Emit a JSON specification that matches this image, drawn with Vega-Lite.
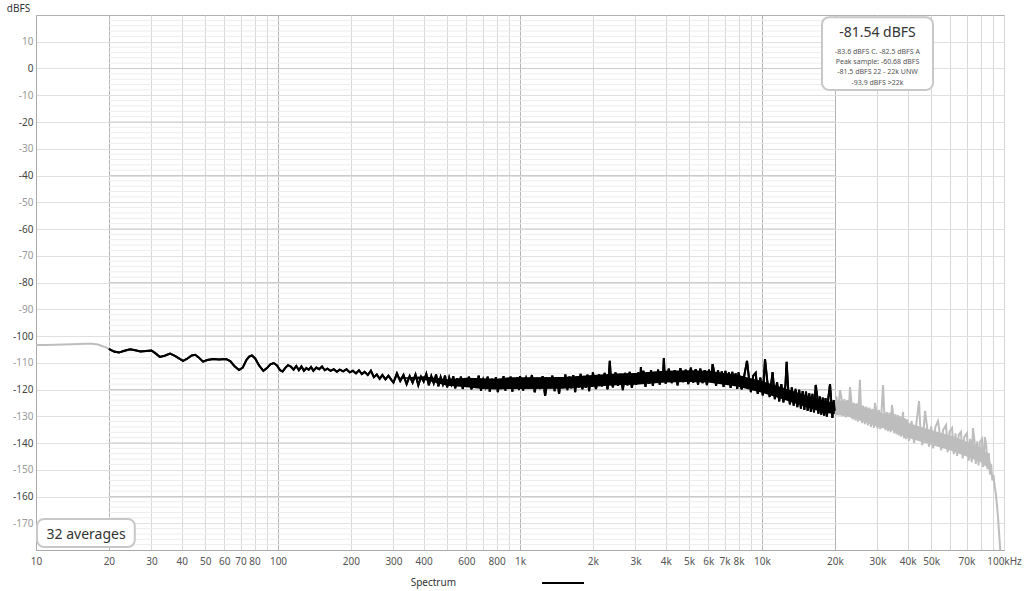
{
  "$schema": "https://vega.github.io/schema/vega-lite/v6.json",
  "width": 968,
  "height": 535,
  "autosize": {"type": "none"},
  "padding": {"left": 36, "top": 15, "right": 20, "bottom": 41},
  "background": "white",
  "config": {"view": {"stroke": "#b0b0b0", "strokeWidth": 1}, "font": "Noto Sans"},
  "datasets": {
    "minor": [-178,-176,-174,-172,-168,-166,-164,-162,-158,-156,-154,-152,-148,-146,-144,-142,-138,-136,-134,-132,-128,-126,-124,-122,-118,-116,-114,-112,-108,-106,-104,-102,-98,-96,-94,-92,-88,-86,-84,-82,-78,-76,-74,-72,-68,-66,-64,-62,-58,-56,-54,-52,-48,-46,-44,-42,-38,-36,-34,-32,-28,-26,-24,-22,-18,-16,-14,-12,-8,-6,-4,-2,2,4,6,8,12,14,16,18],
    "major20": [-160,-140,-120,-100,-80,-60,-40,-20,0],
    "boxes": [
      {"x1": 10.1, "x2": 25.6, "y1": -168.4, "y2": -178.9},
      {"x1": 17700, "x2": 50900, "y1": 19.2, "y2": -8.0}
    ],
    "bignotes": [
      {"x": 16.1, "y": -174.4, "t": "32 averages"},
      {"x": 30000, "y": 13.3, "t": "-81.54 dBFS"}
    ],
    "smallnotes": [
      {"x": 30000, "y": 6.3, "t": "-83.6 dBFS C. -82.5 dBFS A"},
      {"x": 30000, "y": 2.5, "t": "Peak sample: -60.68 dBFS"},
      {"x": 30000, "y": -1.4, "t": "-81.5 dBFS 22 - 22k UNW"},
      {"x": 30000, "y": -5.3, "t": "-93.9 dBFS >22k"}
    ],
    "bandb": [
      {"f":300,"lo":-115.7,"hi":-115.7},{"f":400,"lo":-116.4,"hi":-115.0},{"f":500,"lo":-118.6,"hi":-116.2},{"f":600,"lo":-119.2,"hi":-115.6},{"f":700,"lo":-119.8,"hi":-115.8},{"f":800,"lo":-120.0,"hi":-116.0},{"f":900,"lo":-119.8,"hi":-115.4},{"f":1000,"lo":-119.8,"hi":-115.4},{"f":1500,"lo":-119.7,"hi":-115.3},{"f":2000,"lo":-119.0,"hi":-114.6},{"f":2500,"lo":-118.4,"hi":-114.0},{"f":3000,"lo":-118.2,"hi":-113.8},{"f":3500,"lo":-117.8,"hi":-113.4},{"f":4000,"lo":-117.4,"hi":-113.0},{"f":5000,"lo":-117.2,"hi":-112.8},{"f":6000,"lo":-117.4,"hi":-113.0},{"f":7000,"lo":-118.2,"hi":-113.8},{"f":8000,"lo":-119.0,"hi":-114.6},{"f":9000,"lo":-120.2,"hi":-115.8},{"f":10000,"lo":-121.2,"hi":-116.8},{"f":12000,"lo":-123.5,"hi":-119.1},{"f":14000,"lo":-125.5,"hi":-121.1},{"f":16000,"lo":-127.2,"hi":-122.8},{"f":18000,"lo":-128.7,"hi":-124.3},{"f":20000,"lo":-129.2,"hi":-124.8}
    ],
    "bandg": [
      {"f":20000,"lo":-129.6,"hi":-124.0},{"f":22000,"lo":-129.8,"hi":-124.2},{"f":25000,"lo":-131.4,"hi":-125.8},{"f":30000,"lo":-133.9,"hi":-128.3},{"f":35000,"lo":-135.5,"hi":-129.9},{"f":40000,"lo":-138.0,"hi":-132.4},{"f":50000,"lo":-140.7,"hi":-135.1},{"f":60000,"lo":-142.8,"hi":-137.2},{"f":70000,"lo":-145.0,"hi":-139.4},{"f":80000,"lo":-147.2,"hi":-141.6},{"f":86000,"lo":-149.4,"hi":-144.2},{"f":88500,"lo":-150.5,"hi":-148.0}
    ],
    "spec": [
      {"f":10,"d":-103.4},{"f":11,"d":-103.4},{"f":12,"d":-103.3},{"f":13,"d":-103.2},{"f":14,"d":-103.1},{"f":15,"d":-103.0},{"f":16,"d":-102.9},{"f":17,"d":-102.9},{"f":18,"d":-103.2},{"f":19,"d":-103.9},{"f":20,"d":-104.8},
      {"f":21,"d":-105.8},{"f":22,"d":-106.2},{"f":23,"d":-105.6},{"f":24.5,"d":-105.0},{"f":26,"d":-105.4},{"f":27,"d":-105.8},{"f":28.5,"d":-105.6},{"f":30,"d":-105.4},{"f":31,"d":-106.3},{"f":32.5,"d":-107.8},{"f":34,"d":-107.4},{"f":35.8,"d":-106.6},{"f":37.5,"d":-107.4},{"f":40.5,"d":-109.3},{"f":42,"d":-108.6},{"f":44,"d":-107.3},{"f":45.5,"d":-107.0},{"f":47,"d":-108.0},{"f":49,"d":-109.6},{"f":51,"d":-109.0},{"f":54,"d":-108.6},{"f":57,"d":-108.8},{"f":61,"d":-108.6},{"f":63.5,"d":-109.4},{"f":66,"d":-111.2},{"f":69,"d":-112.7},{"f":71.5,"d":-111.8},{"f":74,"d":-109.0},{"f":76,"d":-107.7},{"f":78,"d":-107.3},{"f":80.5,"d":-108.4},{"f":83.5,"d":-111.0},{"f":87,"d":-113.0},{"f":90,"d":-112.0},{"f":93,"d":-110.6},{"f":96,"d":-110.1},{"f":99,"d":-111.0},{"f":102,"d":-112.8},{"f":104.5,"d":-113.3},{"f":107,"d":-112.0},{"f":110,"d":-110.9},{"f":113,"d":-111.4},
      {"f":116,"d":-112.6},{"f":119,"d":-111.2},{"f":122,"d":-112.8},{"f":125,"d":-111.4},{"f":128,"d":-113.0},{"f":131,"d":-112.0},{"f":134,"d":-112.6},{"f":137,"d":-111.6},{"f":140,"d":-113.0},{"f":144,"d":-111.8},{"f":148,"d":-112.4},{"f":152,"d":-111.4},{"f":156,"d":-112.8},{"f":160,"d":-112.2},{"f":165,"d":-113.0},{"f":170,"d":-112.4},{"f":175,"d":-113.4},{"f":180,"d":-112.6},{"f":186,"d":-113.2},{"f":192,"d":-112.4},{"f":198,"d":-113.6},{"f":204,"d":-113.0},{"f":210,"d":-114.0},{"f":216,"d":-112.8},{"f":222,"d":-114.2},{"f":228,"d":-113.4},{"f":235,"d":-114.6},{"f":242,"d":-113.0},{"f":249,"d":-115.4},{"f":256,"d":-114.4},{"f":263,"d":-116.0},{"f":270,"d":-114.6},{"f":278,"d":-116.2},{"f":286,"d":-114.8},{"f":294,"d":-116.4},
      {"f":300,"d":-117.4},{"f":310,"d":-114.0},{"f":320,"d":-116.8},{"f":330,"d":-114.6},{"f":340,"d":-118.0},{"f":350,"d":-115.0},{"f":360,"d":-117.4},{"f":370,"d":-114.4},{"f":380,"d":-118.4},{"f":390,"d":-115.2},{"f":400,"d":-117.0},{"f":410,"d":-114.2},{"f":420,"d":-118.4},{"f":430,"d":-115.0},{"f":440,"d":-117.6},{"f":450,"d":-114.4},{"f":460,"d":-118.8},{"f":470,"d":-115.4},{"f":480,"d":-118.0},{"f":490,"d":-114.8},{"f":500,"d":-119.2},{"f":510,"d":-115.6},{"f":520,"d":-118.0},{"f":530,"d":-115.0},{"f":540,"d":-119.6},{"f":550,"d":-115.8},{"f":560,"d":-118.4},{"f":570,"d":-115.2},{"f":580,"d":-119.8},{"f":590,"d":-116.0},
      {"f":600,"d":-119.0},{"f":615,"d":-115.2},{"f":630,"d":-120.0},{"f":645,"d":-116.0},{"f":660,"d":-119.2},{"f":675,"d":-114.8},{"f":690,"d":-120.4},{"f":705,"d":-116.4},{"f":720,"d":-119.0},{"f":735,"d":-115.2},{"f":750,"d":-120.8},{"f":765,"d":-116.0},{"f":780,"d":-119.6},{"f":795,"d":-115.4},{"f":810,"d":-121.0},{"f":825,"d":-116.2},{"f":840,"d":-119.8},{"f":855,"d":-115.0},{"f":870,"d":-120.4},{"f":885,"d":-116.4},{"f":900,"d":-119.2},{"f":915,"d":-115.2},{"f":930,"d":-120.8},{"f":945,"d":-116.0},{"f":960,"d":-119.8},{"f":975,"d":-115.4},{"f":990,"d":-120.2},
      {"f":1000,"d":-115.0},{"f":1030,"d":-120.4},{"f":1060,"d":-115.8},{"f":1090,"d":-119.6},{"f":1120,"d":-114.6},{"f":1150,"d":-121.0},{"f":1180,"d":-116.2},{"f":1210,"d":-119.8},{"f":1240,"d":-115.0},{"f":1270,"d":-122.4},{"f":1300,"d":-116.4},{"f":1330,"d":-119.4},{"f":1360,"d":-114.8},{"f":1390,"d":-120.6},{"f":1420,"d":-115.6},{"f":1450,"d":-121.6},{"f":1480,"d":-116.0},{"f":1510,"d":-119.2},{"f":1540,"d":-114.4},{"f":1570,"d":-120.2},{"f":1600,"d":-115.2},{"f":1630,"d":-119.6},{"f":1660,"d":-114.6},{"f":1690,"d":-121.0},{"f":1720,"d":-115.8},{"f":1750,"d":-119.2},{"f":1780,"d":-114.2},{"f":1810,"d":-120.0},{"f":1840,"d":-115.4},{"f":1870,"d":-119.4},{"f":1900,"d":-114.4},{"f":1930,"d":-120.6},{"f":1960,"d":-115.6},{"f":1990,"d":-119.0},
      {"f":2000,"d":-113.6},{"f":2060,"d":-119.8},{"f":2120,"d":-114.4},{"f":2180,"d":-118.8},{"f":2240,"d":-113.8},{"f":2300,"d":-120.0},{"f":2330,"d":-114.6},{"f":2350,"d":-109.3},{"f":2370,"d":-115.0},{"f":2420,"d":-119.2},{"f":2480,"d":-113.6},{"f":2540,"d":-118.6},{"f":2600,"d":-114.2},{"f":2660,"d":-120.2},{"f":2720,"d":-113.8},{"f":2780,"d":-118.4},{"f":2840,"d":-113.4},{"f":2900,"d":-119.4},{"f":2960,"d":-114.0},{"f":3020,"d":-118.2},{"f":3080,"d":-113.6},{"f":3140,"d":-117.0},{"f":3160,"d":-111.6},{"f":3180,"d":-116.6},{"f":3240,"d":-113.0},{"f":3300,"d":-119.0},{"f":3360,"d":-113.6},{"f":3420,"d":-117.8},{"f":3480,"d":-112.8},{"f":3540,"d":-118.6},{"f":3600,"d":-113.4},{"f":3660,"d":-117.4},{"f":3720,"d":-112.6},{"f":3780,"d":-118.2},{"f":3840,"d":-113.2},{"f":3900,"d":-115.0},{"f":3930,"d":-108.2},{"f":3960,"d":-114.6},{"f":4000,"d":-117.8},
      {"f":4120,"d":-112.2},{"f":4240,"d":-117.6},{"f":4360,"d":-112.8},{"f":4480,"d":-118.4},{"f":4600,"d":-112.0},{"f":4720,"d":-117.2},{"f":4840,"d":-112.6},{"f":4960,"d":-118.0},{"f":5080,"d":-111.8},{"f":5200,"d":-117.4},{"f":5320,"d":-112.4},{"f":5440,"d":-118.2},{"f":5560,"d":-112.2},{"f":5680,"d":-117.6},{"f":5800,"d":-112.8},{"f":5920,"d":-118.4},{"f":6040,"d":-112.6},{"f":6160,"d":-117.0},{"f":6250,"d":-110.5},{"f":6340,"d":-113.4},{"f":6460,"d":-118.6},{"f":6580,"d":-112.8},{"f":6700,"d":-117.8},{"f":6820,"d":-113.2},{"f":6940,"d":-119.0},{"f":7060,"d":-113.0},{"f":7180,"d":-118.2},{"f":7300,"d":-113.6},{"f":7420,"d":-119.4},{"f":7540,"d":-113.4},{"f":7660,"d":-118.6},{"f":7780,"d":-114.0},{"f":7900,"d":-119.8},
      {"f":8000,"d":-113.6},{"f":8240,"d":-120.0},{"f":8480,"d":-114.0},{"f":8670,"d":-109.3},{"f":8800,"d":-114.4},{"f":9000,"d":-121.0},{"f":9200,"d":-114.8},{"f":9420,"d":-113.8},{"f":9600,"d":-121.6},{"f":9840,"d":-115.6},{"f":10080,"d":-122.2},{"f":10290,"d":-108.6},{"f":10500,"d":-116.4},{"f":10760,"d":-122.8},{"f":11060,"d":-113.5},{"f":11300,"d":-123.6},{"f":11540,"d":-117.2},{"f":11780,"d":-124.4},{"f":12020,"d":-118.0},{"f":12260,"d":-124.8},{"f":12500,"d":-118.4},{"f":12640,"d":-109.6},{"f":12800,"d":-118.6},{"f":13040,"d":-125.6},{"f":13280,"d":-119.2},{"f":13520,"d":-126.0},{"f":13760,"d":-119.8},{"f":14000,"d":-126.6},{"f":14240,"d":-120.0},{"f":14480,"d":-127.2},{"f":14720,"d":-120.6},{"f":14960,"d":-127.6},{"f":15200,"d":-120.8},{"f":15440,"d":-128.0},{"f":15680,"d":-121.4},{"f":15920,"d":-128.4},{"f":16160,"d":-121.6},{"f":16400,"d":-128.6},{"f":16670,"d":-118.3},{"f":16900,"d":-122.2},{"f":17100,"d":-129.0},{"f":17340,"d":-122.6},{"f":17580,"d":-129.4},{"f":17820,"d":-123.0},{"f":18060,"d":-129.8},{"f":18300,"d":-123.2},{"f":18540,"d":-130.2},{"f":18780,"d":-123.6},{"f":19100,"d":-118.0},{"f":19300,"d":-123.8},{"f":19540,"d":-130.6},{"f":19780,"d":-124.0},{"f":20000,"d":-128.0},
      {"f":20300,"d":-122.6},{"f":20600,"d":-129.4},{"f":21000,"d":-120.2},{"f":21300,"d":-123.2},{"f":21600,"d":-130.0},{"f":21900,"d":-123.6},{"f":22200,"d":-130.4},{"f":22500,"d":-124.0},{"f":22800,"d":-129.8},{"f":23100,"d":-119.1},{"f":23400,"d":-124.4},{"f":23700,"d":-131.2},{"f":24000,"d":-125.0},{"f":24300,"d":-131.6},{"f":24600,"d":-125.2},{"f":24900,"d":-132.0},{"f":25400,"d":-116.4},{"f":25600,"d":-125.6},{"f":25900,"d":-132.6},{"f":26200,"d":-126.0},{"f":26600,"d":-133.0},{"f":27000,"d":-126.4},{"f":27400,"d":-133.4},{"f":27800,"d":-126.8},{"f":28200,"d":-134.0},{"f":28600,"d":-127.2},{"f":29000,"d":-134.4},{"f":29300,"d":-125.0},{"f":29600,"d":-127.6},{"f":30000,"d":-134.6},{"f":30400,"d":-127.6},{"f":30800,"d":-134.8},{"f":31200,"d":-127.8},{"f":31630,"d":-118.3},{"f":32000,"d":-128.2},{"f":32400,"d":-135.2},{"f":32800,"d":-128.4},{"f":33200,"d":-135.6},{"f":33600,"d":-128.6},{"f":34000,"d":-136.0},{"f":34440,"d":-125.8},{"f":34800,"d":-129.0},{"f":35200,"d":-136.4},{"f":35600,"d":-129.2},{"f":36000,"d":-136.8},{"f":36400,"d":-129.6},{"f":36800,"d":-137.2},{"f":37200,"d":-130.0},{"f":37600,"d":-137.6},{"f":38000,"d":-130.6},{"f":38270,"d":-128.4},{"f":38600,"d":-138.2},{"f":39000,"d":-130.8},{"f":39400,"d":-138.6},{"f":39800,"d":-131.2},
      {"f":40500,"d":-139.2},{"f":41500,"d":-131.8},{"f":42500,"d":-140.0},{"f":43500,"d":-132.2},{"f":44560,"d":-124.3},{"f":45000,"d":-132.8},{"f":46000,"d":-140.8},{"f":47190,"d":-128.0},{"f":48000,"d":-133.4},{"f":49000,"d":-141.4},{"f":50000,"d":-133.8},{"f":51000,"d":-142.0},{"f":52000,"d":-134.2},{"f":53360,"d":-131.8},{"f":54000,"d":-134.8},{"f":55000,"d":-142.8},{"f":56000,"d":-135.2},{"f":57600,"d":-133.3},{"f":58500,"d":-143.4},{"f":59500,"d":-135.8},{"f":61000,"d":-134.4},{"f":62000,"d":-144.2},{"f":63000,"d":-136.4},{"f":64000,"d":-144.8},{"f":65000,"d":-137.0},{"f":66400,"d":-135.9},{"f":67500,"d":-145.8},{"f":68500,"d":-137.8},{"f":70300,"d":-136.3},{"f":71500,"d":-146.6},{"f":72500,"d":-138.4},{"f":73500,"d":-147.2},{"f":74450,"d":-134.4},{"f":75500,"d":-139.0},{"f":76500,"d":-147.8},{"f":77500,"d":-139.4},{"f":78500,"d":-148.4},{"f":79500,"d":-139.8},{"f":81100,"d":-138.5},{"f":82000,"d":-149.0},{"f":83400,"d":-137.8},{"f":84500,"d":-141.2},{"f":85500,"d":-149.8},{"f":86500,"d":-143.8},{"f":87500,"d":-151.8},{"f":88500,"d":-148.0},{"f":89500,"d":-154.0},{"f":90500,"d":-152.0},{"f":91500,"d":-156.0},{"f":92500,"d":-159.0},{"f":93500,"d":-163.0},{"f":94500,"d":-168.0},{"f":95500,"d":-174.0},{"f":96500,"d":-180.0},{"f":97500,"d":-188.0}
    ]
  },
  "layer": [
    {
      "data": {"name": "minor"},
      "mark": {"type": "rule", "color": "#ededed", "strokeWidth": 1},
      "encoding": {
        "y": {"field": "data", "type": "quantitative", "scale": {"domain": [-180, 20], "nice": false, "zero": false}, "axis": null},
        "x": {"datum": 20, "type": "quantitative", "scale": {"type": "log", "domain": [10, 100000], "nice": false}, "axis": null},
        "x2": {"datum": 20000}
      }
    },
    {
      "data": {"name": "spec"},
      "transform": [{"filter": "datum.f >= 20 && datum.f <= 20000"}],
      "mark": {"type": "line", "strokeWidth": 2, "clip": true},
      "encoding": {
        "x": {
          "field": "f", "type": "quantitative",
          "scale": {"type": "log", "domain": [10, 100000], "nice": false},
          "axis": {
            "orient": "bottom",
            "values": [10,20,30,40,50,60,70,80,90,100,200,300,400,500,600,700,800,900,1000,2000,3000,4000,5000,6000,7000,8000,9000,10000,20000,30000,40000,50000,60000,70000,80000,90000,100000],
            "labelExpr": "indexof([90,500,700,900,9000,60000,80000,90000], datum.value) >= 0 ? '' : (datum.value == 100000 ? '100kHz' : (datum.value >= 1000 ? (datum.value / 1000) + 'k' : datum.value + ''))",
            "title": null, "ticks": false, "labelPadding": 6, "labelFontSize": 10, "labelColor": "#555555", "labelFont": "Noto Sans",
            "labelFlush": false, "labelOverlap": false, "grid": true,
            "gridColor": {"condition": {"test": "indexof([20,100,1000,10000,20000], datum.value) >= 0", "value": "#b4b4b4"}, "value": "#d8d8d8"},
            "domainColor": "#aaaaaa"
          }
        },
        "y": {
          "field": "d", "type": "quantitative",
          "scale": {"domain": [-180, 20], "nice": false, "zero": false},
          "axis": {
            "orient": "left",
            "values": [10,0,-10,-20,-30,-40,-50,-60,-70,-80,-90,-100,-110,-120,-130,-140,-150,-160,-170],
            "labelExpr": "datum.value + ''",
            "title": "dBFS", "titleAngle": 0, "titleX": -18, "titleY": -7, "titleAlign": "center", "titleBaseline": "middle",
            "titleFontWeight": "normal", "titleFontSize": 10, "titleColor": "#333333", "titleFont": "Noto Sans",
            "ticks": false, "labelPadding": 3, "labelFontSize": 10, "labelFont": "Noto Sans",
            "labelColor": {"condition": {"test": "datum.value % 20 == 0", "value": "#444444"}, "value": "#999999"},
            "grid": true, "gridColor": "#e0e0e0", "domainColor": "#aaaaaa"
          }
        },
        "color": {
          "datum": "Spectrum",
          "scale": {"range": ["#000000"]},
          "legend": {
            "orient": "none", "legendX": 505, "legendY": 546, "title": null,
            "symbolType": "stroke", "symbolSize": 1764, "symbolStrokeWidth": 2, "symbolStrokeColor": "#000000",
            "labelAlign": "right", "labelOffset": -129, "labelFontSize": 10, "labelColor": "#333333", "labelFont": "Noto Sans"
          }
        }
      }
    },
    {
      "data": {"name": "major20"},
      "mark": {"type": "rule", "color": "#cccccc", "strokeWidth": 1},
      "encoding": {
        "y": {"field": "data", "type": "quantitative", "scale": {"domain": [-180, 20], "nice": false, "zero": false}, "axis": null},
        "x": {"datum": 20, "type": "quantitative", "scale": {"type": "log", "domain": [10, 100000], "nice": false}, "axis": null},
        "x2": {"datum": 20000}
      }
    },
    {
      "data": {"name": "bandg"},
      "mark": {"type": "area", "color": "#bdbdbd", "clip": true},
      "encoding": {
        "x": {"field": "f", "type": "quantitative", "scale": {"type": "log", "domain": [10, 100000], "nice": false}, "axis": null},
        "y": {"field": "lo", "type": "quantitative", "scale": {"domain": [-180, 20], "nice": false, "zero": false}, "axis": null},
        "y2": {"field": "hi"}
      }
    },
    {
      "data": {"name": "spec"},
      "transform": [{"filter": "datum.f <= 20"}],
      "mark": {"type": "line", "strokeWidth": 2, "color": "#bdbdbd", "clip": true},
      "encoding": {
        "x": {"field": "f", "type": "quantitative", "scale": {"type": "log", "domain": [10, 100000], "nice": false}, "axis": null},
        "y": {"field": "d", "type": "quantitative", "scale": {"domain": [-180, 20], "nice": false, "zero": false}, "axis": null}
      }
    },
    {
      "data": {"name": "spec"},
      "transform": [{"filter": "datum.f >= 20000"}],
      "mark": {"type": "line", "strokeWidth": 2, "color": "#bdbdbd", "clip": true},
      "encoding": {
        "x": {"field": "f", "type": "quantitative", "scale": {"type": "log", "domain": [10, 100000], "nice": false}, "axis": null},
        "y": {"field": "d", "type": "quantitative", "scale": {"domain": [-180, 20], "nice": false, "zero": false}, "axis": null}
      }
    },
    {
      "data": {"name": "bandb"},
      "mark": {"type": "area", "color": "#000000", "clip": true},
      "encoding": {
        "x": {"field": "f", "type": "quantitative", "scale": {"type": "log", "domain": [10, 100000], "nice": false}, "axis": null},
        "y": {"field": "lo", "type": "quantitative", "scale": {"domain": [-180, 20], "nice": false, "zero": false}, "axis": null},
        "y2": {"field": "hi"}
      }
    },
    {
      "data": {"name": "spec"},
      "transform": [{"filter": "datum.f >= 20 && datum.f <= 20000"}],
      "mark": {"type": "line", "strokeWidth": 2, "color": "#000000", "clip": true},
      "encoding": {
        "x": {"field": "f", "type": "quantitative", "scale": {"type": "log", "domain": [10, 100000], "nice": false}, "axis": null},
        "y": {"field": "d", "type": "quantitative", "scale": {"domain": [-180, 20], "nice": false, "zero": false}, "axis": null}
      }
    },
    {
      "data": {"name": "boxes"},
      "mark": {"type": "rect", "fill": "#ffffff", "stroke": "#c8c8c8", "strokeWidth": 2, "cornerRadius": 7},
      "encoding": {
        "x": {"field": "x1", "type": "quantitative", "scale": {"type": "log", "domain": [10, 100000], "nice": false}, "axis": null},
        "x2": {"field": "x2"},
        "y": {"field": "y1", "type": "quantitative", "scale": {"domain": [-180, 20], "nice": false, "zero": false}, "axis": null},
        "y2": {"field": "y2"}
      }
    },
    {
      "data": {"name": "bignotes"},
      "mark": {"type": "text", "fontSize": 14, "color": "#333333", "font": "Noto Sans", "align": "center", "baseline": "middle"},
      "encoding": {
        "x": {"field": "x", "type": "quantitative", "scale": {"type": "log", "domain": [10, 100000], "nice": false}, "axis": null},
        "y": {"field": "y", "type": "quantitative", "scale": {"domain": [-180, 20], "nice": false, "zero": false}, "axis": null},
        "text": {"field": "t"}
      }
    },
    {
      "data": {"name": "smallnotes"},
      "mark": {"type": "text", "fontSize": 7, "color": "#555555", "font": "Noto Sans", "align": "center", "baseline": "middle"},
      "encoding": {
        "x": {"field": "x", "type": "quantitative", "scale": {"type": "log", "domain": [10, 100000], "nice": false}, "axis": null},
        "y": {"field": "y", "type": "quantitative", "scale": {"domain": [-180, 20], "nice": false, "zero": false}, "axis": null},
        "text": {"field": "t"}
      }
    }
  ],
  "resolve": {"axis": {"x": "independent", "y": "independent"}}
}
